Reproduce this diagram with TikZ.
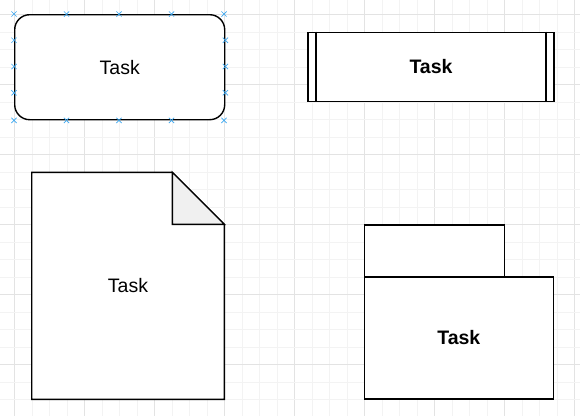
\documentclass[tikz,border=0pt]{standalone}
\usepackage{fontspec}
\setmainfont{Liberation Sans}
\usetikzlibrary{calc}
\usetikzlibrary{shapes.misc}
\definecolor{gridminor}{HTML}{F3F3F3}
\definecolor{gridmajor}{HTML}{E3E3E3}
\definecolor{handle}{HTML}{3BA7F0}
\definecolor{foldgray}{HTML}{F0F0F0}
\tikzstyle{shapeline}=[draw, line width=1.4pt, fill=white]
\tikzstyle{task}=[shapeline, inner sep=0pt, font=\fontsize{19.5}{23}\selectfont]
\tikzstyle{handlemark}=[cross out, draw=handle, line width=0.7pt, minimum size=4.5pt, inner sep=0pt]

\begin{document}
\begin{tikzpicture}[x=1pt,y=-1pt]
\useasboundingbox (0,0) rectangle (580,416);
\fill[white] (0,0) rectangle (580,416);
% grid
\foreach \n in {0,...,32} {
	\pgfmathsetmacro{\gc}{ifthenelse(mod(\n,4)==0,1,0)}
	\ifdim\gc pt>0.5pt
		\draw[gridmajor, line width=0.8pt] (14.7+17.5*\n, 0) -- (14.7+17.5*\n, 416);
	\else
		\draw[gridminor, line width=0.8pt] (14.7+17.5*\n, 0) -- (14.7+17.5*\n, 416);
	\fi
}
\foreach \n in {0,...,22} {
	\pgfmathsetmacro{\gc}{ifthenelse(mod(\n,4)==0,1,0)}
	\ifdim\gc pt>0.5pt
		\draw[gridmajor, line width=0.8pt] (0, 14.7+17.5*\n) -- (580, 14.7+17.5*\n);
	\else
		\draw[gridminor, line width=0.8pt] (0, 14.7+17.5*\n) -- (580, 14.7+17.5*\n);
	\fi
}
% rounded task
\node[task, rounded corners=15pt, minimum width=210pt, minimum height=105pt] (roundtask) at (119.7,67.2) {Task};
\foreach \i in {0,...,4} {
	\node[handlemark] at ($(roundtask.north west)+(52.5*\i,0)$) {};
	\node[handlemark] at ($(roundtask.south west)+(52.5*\i,0)$) {};
}
\foreach \j in {1,...,3} {
	\node[handlemark] at ($(roundtask.north west)+(0,26.25*\j)$) {};
	\node[handlemark] at ($(roundtask.north east)+(0,26.25*\j)$) {};
}
% subprocess task
\node[task, font=\fontsize{19.5}{23}\selectfont\bfseries, minimum width=246pt, minimum height=69.5pt] (subtask) at (431,67) {Task};
\draw[line width=1.4pt] ($(subtask.north west)+(8.75,0)$) -- ($(subtask.south west)+(8.75,0)$);
\draw[line width=1.4pt] ($(subtask.north east)+(-8.75,0)$) -- ($(subtask.south east)+(-8.75,0)$);
% document task
\coordinate (doctl) at (31.7,172.3);
\coordinate (docfold) at (172.3,172.3);
\coordinate (docfr) at (224.3,224.3);
\coordinate (docbr) at (224.3,399.3);
\coordinate (docbl) at (31.7,399.3);
\draw[shapeline, line join=miter] (doctl) -- (docfold) -- (docfr) -- (docbr) -- (docbl) -- cycle;
\draw[line width=1.4pt, fill=foldgray] (docfold) -- (docfr) -- (docfold |- docfr) -- cycle;
\node[font=\fontsize{19.5}{23}\selectfont] (doctask) at ($(doctl)!0.5!(docbr)$) {Task};
% folder task
\node[shapeline, minimum width=140pt, minimum height=52pt] (foldertab) at (434.3,251) {};
\node[task, font=\fontsize{19.5}{23}\selectfont\bfseries, minimum width=189pt, minimum height=122pt] (foldertask) at (458.8,338) {Task};
\end{tikzpicture}
\end{document}
